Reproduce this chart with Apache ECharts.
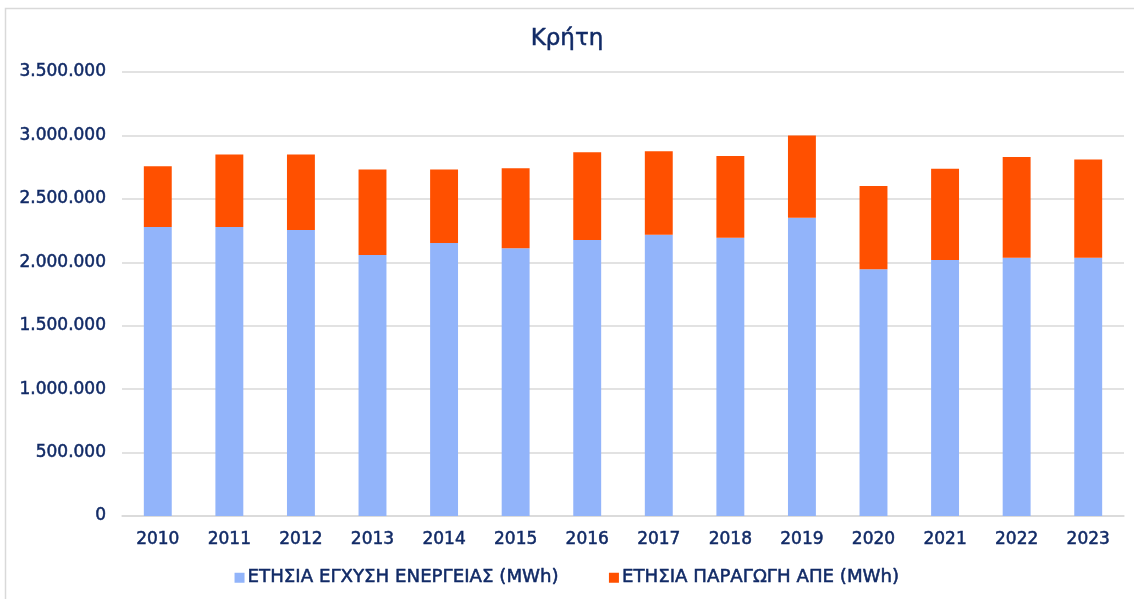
<!DOCTYPE html>
<html>
<head>
<meta charset="utf-8">
<script src="https://cdn.jsdelivr.net/npm/echarts@6/dist/echarts.min.js"></script>
<style>
html,body{margin:0;padding:0;background:#fff;}
#c{width:1134px;height:599px;}
</style>
</head>
<body>
<div id="c"></div>
<script>
var years = ['2010','2011','2012','2013','2014','2015','2016','2017','2018','2019','2020','2021','2022','2023'];
var injection = [2278000,2278000,2254000,2057000,2152000,2110000,2176000,2217000,2194000,2351000,1945000,2018000,2036000,2036000];
var resProduction = [480000,572000,596000,675000,580000,632000,692000,659000,643000,649000,656000,719000,793000,775000];
var seriesNames = ['ΕΤΗΣΙΑ ΕΓΧΥΣΗ ΕΝΕΡΓΕΙΑΣ (MWh)','ΕΤΗΣΙΑ ΠΑΡΑΓΩΓΗ ΑΠΕ (MWh)'];
var titleText = 'Κρήτη';

var navy = '#112a66';
var font = '"DejaVu Sans", sans-serif';
function fmt(v){ return String(v).replace(/\B(?=(\d{3})+(?!\d))/g,'.'); }
var txt = function(size){ return {color:navy,fontSize:size,fontWeight:'normal',fontFamily:font,textBorderColor:navy,textBorderWidth:0.5}; };

var chart = echarts.init(document.getElementById('c'));
chart.setOption({
  animation:false,
  backgroundColor:'#fff',
  graphic:[{type:'rect',shape:{x:5.5,y:8.5,width:1200,height:700},style:{fill:'none',stroke:'#d9d9d9',lineWidth:1.5},silent:true,z:-1}],
  title:{text:titleText,left:'center',top:23,textStyle:txt(23)},
  grid:{left:122,right:10,top:72,bottom:83},
  legend:{bottom:7,left:'center',itemWidth:10,itemHeight:10,itemGap:50,icon:'rect',
    textStyle:Object.assign(txt(18.2),{padding:[0,0,0,-2]})},
  xAxis:{type:'category',data:years,
    axisLine:{lineStyle:{color:'#d9d9d9',width:1.5}},axisTick:{show:false},
    axisLabel:Object.assign(txt(17),{margin:15})},
  yAxis:{type:'value',min:0,max:3500000,interval:500000,
    axisLabel:Object.assign(txt(17),{margin:16,formatter:fmt}),
    splitLine:{lineStyle:{color:'#d9d9d9',width:1.5}},axisLine:{show:false},axisTick:{show:false}},
  series:[
    {name:seriesNames[0],type:'bar',stack:'a',data:injection,barWidth:'39%',itemStyle:{color:'#92b4fa'}},
    {name:seriesNames[1],type:'bar',stack:'a',data:resProduction,barWidth:'39%',itemStyle:{color:'#ff5000'}}
  ]
});
</script>
</body>
</html>
